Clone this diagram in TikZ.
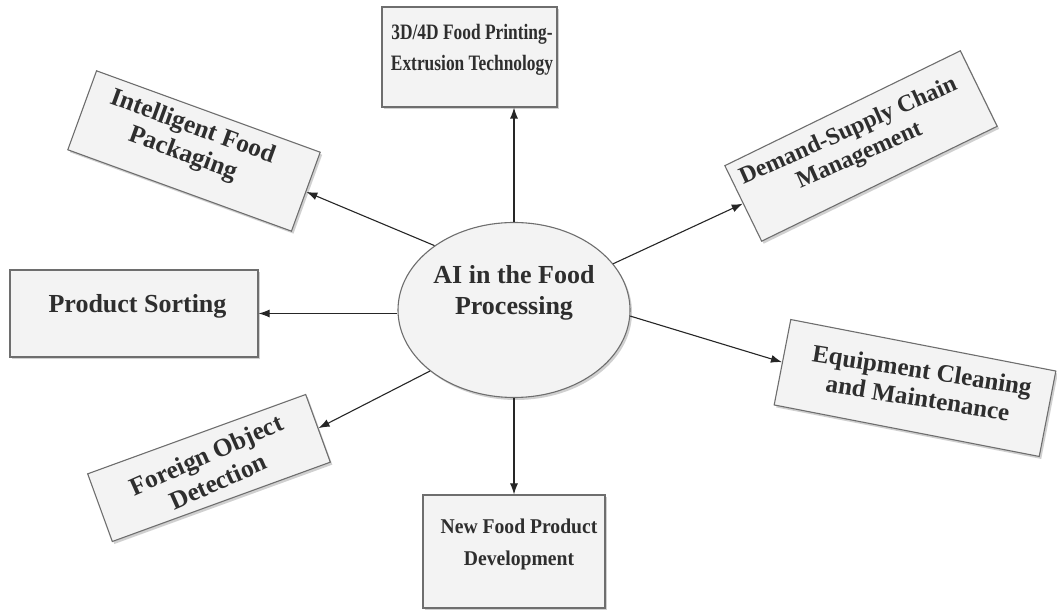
\documentclass[tikz,border=0pt]{standalone}
\usepackage{fontspec}
\setmainfont{Liberation Serif}
\usetikzlibrary{arrows.meta,shapes.geometric,shadows,calc}
\definecolor{boxfill}{HTML}{F3F3F3}
\definecolor{boxline}{HTML}{6E6E6E}
\definecolor{txtc}{HTML}{2E2E2E}
\newcommand{\fsz}[2]{\bfseries\fontsize{#1}{#2}\selectfont}
\begin{document}
\begin{tikzpicture}[x=1pt,y=1pt,
  box/.style={draw=boxline, fill=boxfill, line width=1.1pt, inner sep=0pt,
    drop shadow={shadow xshift=2pt, shadow yshift=-2.5pt, opacity=0.3, fill=black!60}},
  lbl/.style={align=center, text=txtc, inner sep=0pt},
  arr/.style={-{Latex[length=11pt,width=8pt]}, line width=1.1pt, draw=black!85}]
\useasboundingbox[fill=white] (0,0) rectangle (1057,610);

% centre
\node[box, ellipse, minimum width=232pt, minimum height=175pt] (ai) at (514,300) {};
\node[lbl, font=\fsz{26}{31}] (ait) at (514,317) {AI in the Food\\Processing};

% top
\node[box, minimum width=175pt, minimum height=100pt] (tdp) at (469.5,553) {};
\node[lbl, xscale=0.79, font=\fsz{22}{31}] (tdpt) at (472,560) {3D/4D Food Printing-\\Extrusion Technology};

% bottom
\node[box, minimum width=182pt, minimum height=113pt] (npd) at (514,58.5) {};
\node[lbl, xscale=0.935, font=\fsz{21}{32}] (npdt) at (519,66) {New Food Product\\Development};

% left
\node[box, minimum width=248pt, minimum height=87pt] (ps) at (134,296.5) {};
\node[lbl, font=\fsz{26}{31}] (pst) at (137.5,304) {Product Sorting};

% upper left
\node[box, rotate=-20, minimum width=238pt, minimum height=84pt] (ifp) at (194,459) {};
\node[lbl, rotate=-20, font=\fsz{25.5}{28.5}] (ifpt) at (187.5,469) {Intelligent Food\\Packaging};

% upper right
\node[box, rotate=26, minimum width=262pt, minimum height=84pt] (dsc) at (861,464) {};
\node[lbl, rotate=24, font=\fsz{24}{27}] (dsct) at (854,466) {Demand-Supply Chain\\Management};

% lower right
\node[box, rotate=-11, minimum width=270pt, minimum height=87pt] (eqm) at (915,222) {};
\node[lbl, rotate=-9, font=\fsz{25}{28}] (eqmt) at (920,226) {Equipment Cleaning\\and Maintenance};

% lower left
\node[box, rotate=20, minimum width=232pt, minimum height=72pt] (fod) at (209,142) {};
\node[lbl, rotate=24, font=\fsz{25.5}{29}] (fodt) at (212,142) {Foreign Object\\Detection};

% connectors
\draw[arr] (ai.north) -- (ai.north |- tdp.south);
\draw[arr] (ai.south) -- (npd.north);
\draw[arr] (ai.west |- ps.east) -- (ps.east);
\draw[arr] (ai.141) -- (ifp.east);
\draw[arr] (ai.25) -- (dsc.west);
\draw[arr] (ai.-3) -- (eqm.west);
\draw[arr] (ai.216) -- (fod.east);
\end{tikzpicture}
\end{document}
